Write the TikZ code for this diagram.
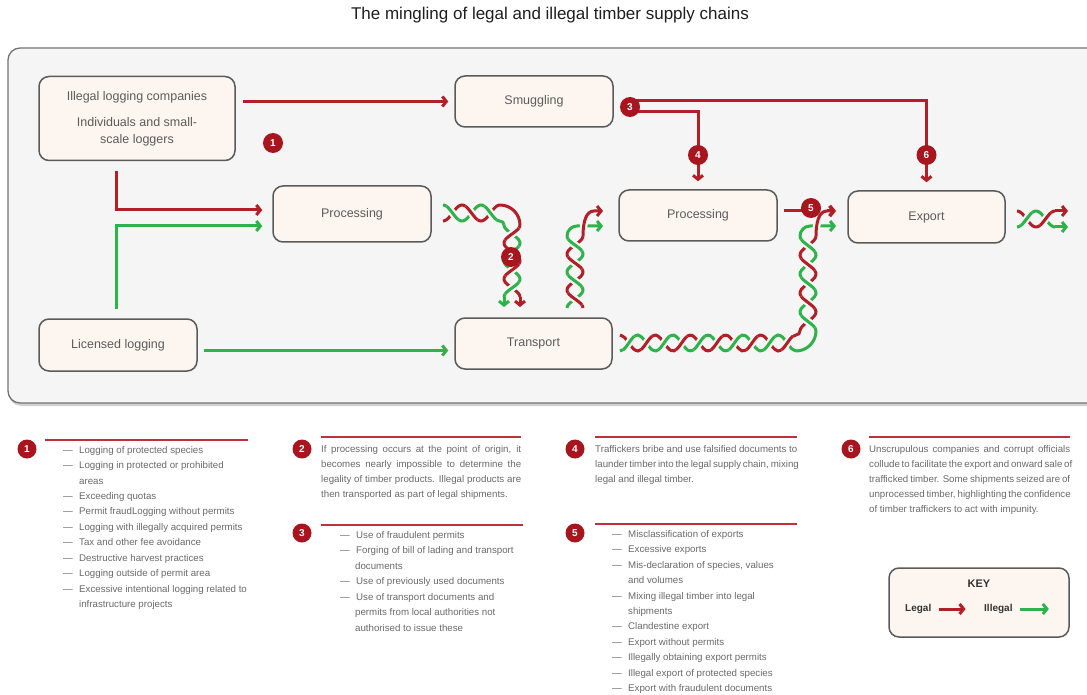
\documentclass[tikz,border=0pt]{standalone}
\usepackage{fontspec}
\setmainfont{Liberation Sans}
\usetikzlibrary{arrows.meta}
\definecolor{rd}{HTML}{B31E27}
\definecolor{gr}{HTML}{2DB34A}
\definecolor{bdg}{HTML}{A8151E}
\definecolor{frame}{HTML}{F5F5F5}
\definecolor{cream}{HTML}{FDF5F0}
\definecolor{boxline}{HTML}{5A5A5A}
\definecolor{txt}{HTML}{5C5C5C}
\definecolor{ltxt}{HTML}{6A6A6A}
\definecolor{rulered}{HTML}{C0303A}
\newcounter{tn}
\newcommand\hs[7]{\draw[strand,#1] plot[domain=#2:#3,samples=40,smooth] (\x,{#4+#5*cos((\x-#7)/#6*360)});}
\newcommand\vs[7]{\draw[strand,#1] plot[domain=#2:#3,samples=40,smooth] ({#4+#5*cos((\x-#7)/#6*360)},\x);}
\newcommand\hx[7]{\hs{gapst}{#2}{#3}{#4}{#5}{#6}{#7}\hs{#1}{#2}{#3}{#4}{#5}{#6}{#7}}
\newcommand\vx[7]{\vs{gapst}{#2}{#3}{#4}{#5}{#6}{#7}\vs{#1}{#2}{#3}{#4}{#5}{#6}{#7}}
\newcommand\li[3]{\stepcounter{tn}\node[lt,name=t\thetn] at (#1,#2) {—\hspace{6.3pt}#3};}
\newcommand\lc[3]{\stepcounter{tn}\node[lt,name=t\thetn] at (#1,#2) {#3};}
\newcommand\pl[4]{\stepcounter{tn}\node[lt,name=t\thetn] at (#1,#2) {\hbox to #3pt{#4}};}
\begin{document}
\begin{tikzpicture}[x=1pt,y=-1pt,
  box/.style={draw=boxline,line width=1.5pt,fill=cream,rounded corners=10pt,inner sep=0pt,
    text=txt,font=\fontsize{12.5}{17}\selectfont,align=center},
  badge/.style={circle,fill=bdg,text=white,inner sep=0pt,minimum size=20pt,
    font=\fontsize{10}{10}\selectfont\bfseries},
  lbadge/.style={badge,minimum size=19pt},
  strand/.style={line width=3pt},
  gapst/.style={draw=frame,line width=7.5pt},
  tip/.style={-{Straight Barb[length=4pt,width=10pt]}},
  rarrow/.style={draw=rd,line width=3pt,tip},
  garrow/.style={draw=gr,line width=3pt,tip},
  lt/.style={anchor=base west,inner sep=0pt,text=ltxt,font=\fontsize{9.7}{12}\selectfont},
  rl/.style={draw=rulered,line width=1.3pt}
]
\useasboundingbox (0,0) rectangle (1087,695);
\clip (0,0) rectangle (1087,695);
\fill[white] (0,0) rectangle (1087,695);

% title
\node[name=title,text=black!88,font=\fontsize{17}{19}\selectfont] at (550,15)
  {The mingling of legal and illegal timber supply chains};

% frame
\fill[black!18,rounded corners=12pt] (9,51) rectangle (1101,406);
\draw[fill=frame,draw=black!55,line width=1.3pt,rounded corners=12pt] (8,48) rectangle (1100,403);

% boxes
\node[box,minimum width=196pt,minimum height=84pt] (ill) at (137,118.5)
  {Illegal logging companies\\[9pt]Individuals and small-\\scale loggers};
\node[box,minimum width=158pt,minimum height=51pt] (smug) at (534,101.5) {Smuggling};
\node[box,minimum width=158pt,minimum height=56pt] (p1) at (352,214) {Processing};
\node[box,minimum width=158pt,minimum height=51pt] (p2) at (698,215.5) {Processing};
\node[box,minimum width=157pt,minimum height=52pt] (exp) at (926.5,217) {Export};
\node[box,minimum width=158pt,minimum height=52pt] (lic) at (118,345) {Licensed logging};
\node[box,minimum width=157pt,minimum height=51pt] (tr) at (533.5,343.5) {Transport};

\coordinate (c1) at (273,143);
\coordinate (c2) at (511,257);
\coordinate (c3) at (630,107);
\coordinate (c4) at (698,155);
\coordinate (c5) at (811,208);
\coordinate (c6) at (926.5,155);

% main connectors
\draw[rarrow] ([xshift=7pt]ill.east |- smug.west) -- ([xshift=-6pt]smug.west);
\draw[rarrow] ([xshift=-21pt,yshift=-10pt]ill.south) |- ([xshift=-10pt,yshift=4pt]p1.west);
\draw[garrow] ([xshift=-2pt,yshift=9pt]lic.north) |- ([xshift=-10pt,yshift=-12pt]p1.west);
\draw[garrow] ([xshift=6pt,yshift=-5.5pt]lic.east) -- ([xshift=-6pt,yshift=-7pt]tr.west);
\draw[rarrow] ([yshift=6pt]c3) -| ([yshift=8pt]exp.north);
\draw[rarrow] ([yshift=-5pt]c3) -| ([yshift=8pt]p2.north);
\draw[rarrow] ([xshift=6pt,yshift=4.5pt]p2.east) -- ([xshift=-12pt,yshift=6pt]exp.west);

% braid 1 : Processing -> Transport
\hs{rd}{443}{500}{213}{(-8)}{38}{500}
\hs{gr}{443}{500}{213}{8}{38}{500}
\hx{gr}{446.5}{458.5}{213}{8}{38}{500}
\hx{rd}{465.5}{477.5}{213}{(-8)}{38}{500}
\hx{gr}{484.5}{496.5}{213}{8}{38}{500}
\draw[strand,rd] (500,205) .. controls (511,205) and (520,214) .. (520,225);
\draw[strand,gr] (500,221) .. controls (502.2,221) and (504,222.8) .. (504,225);
\vs{gr}{225}{297}{512}{(-8)}{36}{225}
\vs{rd}{225}{297}{512}{8}{36}{225}
\vx{rd}{228}{240}{512}{8}{36}{225}
\vx{gr}{246}{258}{512}{(-8)}{36}{225}
\vx{rd}{264}{276}{512}{8}{36}{225}
\vx{gr}{282}{294}{512}{(-8)}{36}{225}
\draw[strand,gr,tip] (504,297) -- (504,307);
\draw[strand,rd,tip] (520,297) -- (520,307);

% braid 2 : Transport -> Processing
\vs{rd}{236}{308}{575}{8}{36}{236}
\vs{gr}{236}{308}{575}{(-8)}{36}{236}
\vx{rd}{293}{305}{575}{8}{36}{236}
\vx{gr}{275}{287}{575}{(-8)}{36}{236}
\vx{rd}{257}{269}{575}{8}{36}{236}
\vx{gr}{239}{251}{575}{(-8)}{36}{236}
\draw[strand,gr,tip] (567,236) .. controls (567,230.5) and (571.5,226) .. (577,226) -- (603,226);
\draw[gapst] (583,236) .. controls (583,222) and (586,211) .. (594,211);
\draw[strand,rd,tip] (583,236) .. controls (583,222) and (586,211) .. (594,211) -- (603,211);

% braid 3 : Transport -> Export
\hs{rd}{620}{796}{343}{(-8)}{35.2}{796}
\hs{gr}{620}{796}{343}{8}{35.2}{796}
\hx{gr}{623.3}{634.3}{343}{8}{35.2}{796}
\hx{rd}{640.9}{651.9}{343}{(-8)}{35.2}{796}
\hx{gr}{658.5}{669.5}{343}{8}{35.2}{796}
\hx{rd}{676.1}{687.1}{343}{(-8)}{35.2}{796}
\hx{gr}{693.7}{704.7}{343}{8}{35.2}{796}
\hx{rd}{711.3}{722.3}{343}{(-8)}{35.2}{796}
\hx{gr}{728.9}{739.9}{343}{8}{35.2}{796}
\hx{rd}{746.5}{757.5}{343}{(-8)}{35.2}{796}
\hx{gr}{764.1}{775.1}{343}{8}{35.2}{796}
\hx{rd}{781.7}{792.7}{343}{(-8)}{35.2}{796}
\draw[strand,rd] (796,335) .. controls (798.2,335) and (800,333.2) .. (800,331);
\draw[strand,gr] (796,351) .. controls (807,351) and (816,342) .. (816,331);
\vs{rd}{236}{331}{808}{8}{38}{236}
\vs{gr}{236}{331}{808}{(-8)}{38}{236}
\vx{gr}{315.5}{327.5}{808}{(-8)}{38}{236}
\vx{rd}{296.5}{308.5}{808}{8}{38}{236}
\vx{gr}{277.5}{289.5}{808}{(-8)}{38}{236}
\vx{rd}{258.5}{270.5}{808}{8}{38}{236}
\vx{gr}{239.5}{251.5}{808}{(-8)}{38}{236}
\draw[strand,gr,tip] (800,236) .. controls (800,230.5) and (804.5,226) .. (810,226) -- (836,226);
\draw[gapst] (816,236) .. controls (816,222) and (819,211) .. (827,211);
\draw[strand,rd,tip] (816,236) .. controls (816,222) and (819,211) .. (827,211) -- (836,211);

% braid 4 : after Export
\hs{rd}{1017}{1055}{219}{(-8)}{38}{1017}
\hs{gr}{1017}{1055}{219}{8}{38}{1017}
\hx{gr}{1021}{1032}{219}{8}{38}{1017}
\hx{rd}{1040}{1051}{219}{(-8)}{38}{1017}
\draw[strand,rd,tip] (1055,211) -- (1068,211);
\draw[strand,gr,tip] (1055,227) -- (1068,227);

% badges on the diagram
\node[badge] (b1) at (c1) {1};
\node[badge] (b2) at (c2) {2};
\node[badge] (b3) at (c3) {3};
\node[badge] (b4) at (c4) {4};
\node[badge] (b5) at (c5) {5};
\node[badge] (b6) at (c6) {6};

% legend
\node[lbadge] (l1) at (27,449) {1};
\node[lbadge] (l2) at (302,449) {2};
\node[lbadge] (l3) at (302,533) {3};
\node[lbadge] (l4) at (575,449) {4};
\node[lbadge] (l5) at (575,533) {5};
\node[lbadge] (l6) at (851,449) {6};
\draw[rl] (45,440) -- (248,440);
\draw[rl] (321,437) -- (521,437);
\draw[rl] (321,525) -- (523,525);
\draw[rl] (595,437) -- (797,437);
\draw[rl] (595,524) -- (797,524);
\draw[rl] (869,437) -- (1070,437);

\li{63}{453.5}{Logging of protected species}
\li{63}{468.5}{Logging in protected or prohibited}
\lc{79}{484.5}{areas}
\li{63}{499.5}{Exceeding quotas}
\li{63}{514.5}{Permit fraudLogging without permits}
\li{63}{530.5}{Logging with illegally acquired permits}
\li{63}{545.5}{Tax and other fee avoidance}
\li{63}{561.5}{Destructive harvest practices}
\li{63}{576.5}{Logging outside of permit area}
\li{63}{592.5}{Excessive intentional logging related to}
\lc{79}{607.5}{infrastructure projects}

\pl{321}{452.5}{200}{If processing occurs at the point of origin, it}
\pl{321}{467.5}{200}{becomes nearly impossible to determine the}
\pl{321}{482.5}{200}{legality of timber products. Illegal products are}
\lc{321}{497.5}{then transported as part of legal shipments.}

\li{340}{538.5}{Use of fraudulent permits}
\li{340}{553.5}{Forging of bill of lading and transport}
\lc{355}{569.5}{documents}
\li{340}{584.5}{Use of previously used documents}
\li{340}{600.5}{Use of transport documents and}
\lc{355}{615.5}{permits from local authorities not}
\lc{355}{631.5}{authorised to issue these}

\pl{595}{452.5}{202}{Traffickers bribe and use falsified documents to}
\pl{595}{467.5}{202}{launder timber into the legal supply chain, mixing}
\lc{595}{482.5}{legal and illegal timber.}

\li{612}{537.5}{Misclassification of exports}
\li{612}{552.5}{Excessive exports}
\li{612}{568.5}{Mis-declaration of species, values}
\lc{628}{583.5}{and volumes}
\li{612}{599.5}{Mixing illegal timber into legal}
\lc{628}{614.5}{shipments}
\li{612}{629.5}{Clandestine export}
\li{612}{645.5}{Export without permits}
\li{612}{660.5}{Illegally obtaining export permits}
\li{612}{676.5}{Illegal export of protected species}
\li{612}{691.5}{Export with fraudulent documents}

\pl{869}{452.5}{201}{Unscrupulous companies and corrupt officials}
\pl{869}{467.5}{201}{collude to facilitate the export and onward sale of}
\pl{869}{482.5}{201}{trafficked timber. Some shipments seized are of}
\pl{869}{497.5}{201}{unprocessed timber, highlighting the confidence}
\lc{869}{512.5}{of timber traffickers to act with impunity.}

% key
\node[box,minimum width=180pt,minimum height=69pt] (key) at (979,602.5) {};
\node[text=black!80,font=\fontsize{11}{12}\selectfont\bfseries] (keyt) at (979,584) {KEY};
\node[anchor=west,inner sep=0pt,text=black!80,font=\fontsize{10}{12}\selectfont\bfseries] (kleg) at (905,609) {Legal};
\node[anchor=west,inner sep=0pt,text=black!80,font=\fontsize{10}{12}\selectfont\bfseries] (kill) at (984,609) {Illegal};
\draw[rarrow] ([xshift=7pt]kleg.east) -- ([xshift=34pt]kleg.east);
\draw[garrow] ([xshift=7pt]kill.east) -- ([xshift=36pt]kill.east);
\end{tikzpicture}
\end{document}
